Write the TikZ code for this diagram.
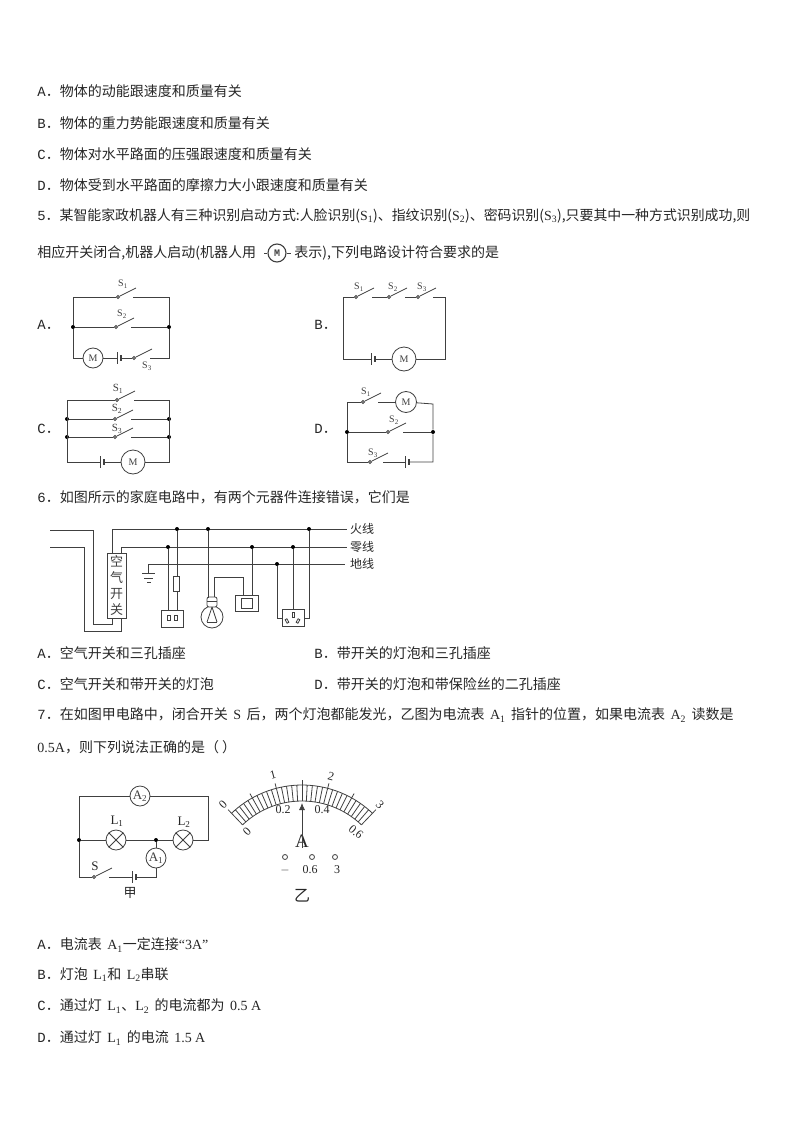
\documentclass[tikz,border=0pt]{standalone}
\usepackage{fontspec}
\setmainfont{Noto Sans CJK SC}
\newfontfamily\latfont{Liberation Serif}
\newfontfamily\optfont{Liberation Mono}
\usetikzlibrary{arrows.meta}
\newcommand{\lat}[1]{{\latfont #1}}
\newcommand{\opt}[1]{{\optfont #1}}
\newcommand{\sbs}[1]{\textsubscript{#1}}
\newcommand{\gp}{\hspace{5.5pt}}
% switch: pivot node, blade, and coordinate where the wire comes back
\newcommand{\swit}[4]{%
    \node[pivot] (#1) at (#2,#3) {};
    \coordinate (#1b) at (#2+18,#3-9);
    \coordinate (#1r) at (#2+#4,#3);
    \draw (#1) -- (#1b);}
% cell: long and short bar, with coordinates on both sides
\newcommand{\cell}[3]{%
    \coordinate (#1l) at (#2,#3);
    \coordinate (#1r) at (#2+4,#3);
    \draw (#2,#3-6) -- (#2,#3+6);
    \draw[line width=1.1pt] (#2+4,#3-3) -- (#2+4,#3+3);}

\begin{document}
\begin{tikzpicture}[x=1pt,y=-1pt,
    wire/.style = {line width=0.8pt, black!75},
    line/.style = {anchor=west, inner sep=0pt, text=black!85,
        font=\fontsize{14}{16}\selectfont},
    slabel/.style = {inner sep=0pt, text=black!75,
        font=\latfont\fontsize{10}{10}\selectfont},
    dot/.style = {circle, fill=black, inner sep=0pt, minimum size=4pt},
    pivot/.style = {circle, draw, fill=white, inner sep=0pt, minimum size=3pt},
    motor/.style = {circle, draw, fill=white, inner sep=0pt, minimum size=20pt,
        font=\latfont\fontsize{10}{10}\selectfont},
    lamp/.style = {circle, draw, fill=white, inner sep=0pt, minimum size=20pt},
    meter/.style = {circle, draw, fill=white, inner sep=0pt, minimum size=20pt,
        font=\latfont\fontsize{13}{13}\selectfont},
    box/.style = {rectangle, draw, fill=white, inner sep=0pt},
    tag/.style = {inner sep=0pt, text=black!85,
        font=\fontsize{12}{12}\selectfont},
    dialtext/.style = {inner sep=0pt, text=black!85,
        font=\latfont\fontsize{12}{12}\selectfont},
    wire]
\useasboundingbox (0,0) rectangle (794,1123);

% Text of the page
\node[line] (q4a) at (37,91) {\opt{A}．物体的动能跟速度和质量有关};
\node[line] (q4b) at (37,123) {\opt{B}．物体的重力势能跟速度和质量有关};
\node[line] (q4c) at (37,154) {\opt{C}．物体对水平路面的压强跟速度和质量有关};
\node[line] (q4d) at (37,185) {\opt{D}．物体受到水平路面的摩擦力大小跟速度和质量有关};
\node[line,font=\fontsize{13.9}{16}\selectfont] (q5a) at (37,216) {\opt{5}．某智能家政机器人有三种识别启动方式:人脸识别(\lat{S\sbs{1}})、指纹识别(\lat{S\sbs{2}})、密码识别(\lat{S\sbs{3}}),只要其中一种方式识别成功,则};
\node[line] (q5b) at (37,253) {相应开关闭合,机器人启动(机器人用};
\node[line] (q5c) at (294,253) {表示),下列电路设计符合要求的是};
\node[line] (q6) at (37,497) {\opt{6}．如图所示的家庭电路中，有两个元器件连接错误，它们是};
\node[line] (q6a) at (37,653) {\opt{A}．空气开关和三孔插座};
\node[line] (q6b) at (314,653) {\opt{B}．带开关的灯泡和三孔插座};
\node[line] (q6c) at (37,684) {\opt{C}．空气开关和带开关的灯泡};
\node[line] (q6d) at (314,684) {\opt{D}．带开关的灯泡和带保险丝的二孔插座};
\node[line] (q7a) at (37,715) {\opt{7}．在如图甲电路中，闭合开关\gp\lat{S}\gp 后，两个灯泡都能发光，乙图为电流表\gp\lat{A\sbs{1}}\gp 指针的位置，如果电流表\gp\lat{A\sbs{2}}\gp 读数是};
\node[line] (q7b) at (37,747) {\lat{0.5A}，则下列说法正确的是（ ）};
\node[line] (q7oa) at (37,945) {\opt{A}．电流表\gp\lat{A\sbs{1}}一定连接\lat{“3A”}};
\node[line] (q7ob) at (37,975) {\opt{B}．灯泡\gp\lat{L\sbs{1}}和\gp\lat{L\sbs{2}}串联};
\node[line] (q7oc) at (37,1006) {\opt{C}．通过灯\gp\lat{L\sbs{1}}、\lat{L\sbs{2}}\gp 的电流都为\gp\lat{0.5 A}};
\node[line] (q7od) at (37,1038) {\opt{D}．通过灯\gp\lat{L\sbs{1}}\gp 的电流\gp\lat{1.5 A}};
\node[line] (la) at (37,325) {\opt{A}．};
\node[line] (lb) at (314,325) {\opt{B}．};
\node[line] (lc) at (37,429) {\opt{C}．};
\node[line] (ld) at (314,429) {\opt{D}．};

% Motor inside the sentence
\node[motor,line width=1.1pt,minimum size=18pt,font=\optfont\bfseries\fontsize{10}{10}\selectfont] (mq) at (277,253) {M};
\coordinate (mql) at (264,253);
\coordinate (mqr) at (291,253);
\draw (mql) -- (mq);
\draw (mq) -- (mqr);

% Circuit A
\coordinate (atl) at (73,297);
\coordinate (atr) at (169,297);
\coordinate (abl) at (73,358);
\coordinate (abr) at (169,358);
\node[dot] (aml) at (73,327) {};
\node[dot] (amr) at (169,327) {};
\swit{as1}{118}{297}{15}
\swit{as2}{116}{327}{15}
\swit{as3}{134}{358}{16}
\cell{ac}{117}{358}
\node[motor] (am) at (93,358) {M};
\node[slabel] (as1t) at (123,284) {S\sbs{1}};
\node[slabel] (as2t) at (122,314) {S\sbs{2}};
\node[slabel] (as3t) at (147,366) {S\sbs{3}};
\draw (as1) -- (atl) -- (aml) -- (abl) -- (am);
\draw (as1r) -- (atr) -- (amr) -- (abr) -- (as3r);
\draw (aml) -- (as2);
\draw (as2r) -- (amr);
\draw (am) -- (acl);
\draw (acr) -- (as3);

% Circuit B
\coordinate (btl) at (343,297);
\coordinate (btr) at (445,297);
\coordinate (bbl) at (343,359);
\coordinate (bbr) at (445,359);
\swit{bs1}{356}{297}{16}
\swit{bs2}{389}{297}{16}
\swit{bs3}{418}{297}{15}
\cell{bc}{371}{359}
\node[motor,minimum size=24pt] (bm) at (404,359) {M};
\node[slabel] (bs1t) at (359,287) {S\sbs{1}};
\node[slabel] (bs2t) at (393,287) {S\sbs{2}};
\node[slabel] (bs3t) at (422,287) {S\sbs{3}};
\draw (bs1) -- (btl) -- (bbl) -- (bcl);
\draw (bcr) -- (bm);
\draw (bm) -- (bbr) -- (btr) -- (bs3r);
\draw (bs1r) -- (bs2);
\draw (bs2r) -- (bs3);

% Circuit C
\coordinate (ctl) at (67,400);
\coordinate (ctr) at (169,400);
\coordinate (cbl) at (67,462);
\coordinate (cbr) at (169,462);
\node[dot] (cl2) at (67,419) {};
\node[dot] (cl3) at (67,437) {};
\node[dot] (cr2) at (169,419) {};
\node[dot] (cr3) at (169,437) {};
\swit{cs1}{117}{400}{17}
\swit{cs2}{115}{419}{16}
\swit{cs3}{115}{437}{16}
\cell{cc}{100}{462}
\node[motor,minimum size=24pt] (cm) at (133,462) {M};
\node[slabel,font=\latfont\fontsize{11}{11}\selectfont] (cs1t) at (118,389) {S\sbs{1}};
\node[slabel,font=\latfont\fontsize{11}{11}\selectfont] (cs2t) at (117,409) {S\sbs{2}};
\node[slabel,font=\latfont\fontsize{11}{11}\selectfont] (cs3t) at (117,429) {S\sbs{3}};
\draw (cs1) -- (ctl) -- (cbl) -- (ccl);
\draw (ccr) -- (cm);
\draw (cm) -- (cbr) -- (ctr) -- (cs1r);
\draw (cl2) -- (cs2);
\draw (cl3) -- (cs3);
\draw (cs2r) -- (cr2);
\draw (cs3r) -- (cr3);

% Circuit D
\coordinate (dtl) at (347,402);
\coordinate (dtr) at (433,404);
\coordinate (dbl) at (347,462);
\coordinate (dbr) at (433,462);
\node[dot] (dml) at (347,432) {};
\node[dot] (dmr) at (433,432) {};
\swit{ds1}{363}{402}{15}
\swit{ds2}{388}{432}{15}
\swit{ds3}{370}{462}{13}
\cell{dc}{405}{462}
\node[motor,minimum size=21pt] (dm) at (406,402) {M};
\node[slabel] (ds1t) at (366,392) {S\sbs{1}};
\node[slabel] (ds2t) at (394,420) {S\sbs{2}};
\node[slabel] (ds3t) at (373,453) {S\sbs{3}};
\draw (ds1) -- (dtl) -- (dml) -- (dbl) -- (ds3);
\draw (ds1r) -- (dm);
\draw (dm) -- (dtr) -- (dmr) -- (dbr) -- (dcr);
\draw (dml) -- (ds2);
\draw (ds2r) -- (dmr);
\draw (ds3r) -- (dcl);

% House wiring
\coordinate (firein) at (50,530);
\coordinate (firebend) at (93,530);
\coordinate (firelow) at (93,624);
\coordinate (firebox) at (112,624);
\coordinate (nulin) at (50,547);
\coordinate (nulbend) at (84,547);
\coordinate (nullow) at (84,631);
\coordinate (nulbox) at (121,631);
\coordinate (firel) at (112,529);
\coordinate (firer) at (347,529);
\coordinate (null) at (121,547);
\coordinate (nulr) at (347,547);
\coordinate (gndl) at (148,564);
\coordinate (gndr) at (345,564);
\coordinate (gndb) at (148,573);
\node[box,minimum width=19pt,minimum height=65pt,font=\fontsize{13}{16}\selectfont,align=center] (brk) at (116.5,585.5) {空\\气\\开\\关};
\node[tag] (firet) at (362,529) {火线};
\node[tag] (nult) at (362,547) {零线};
\node[tag] (gndt) at (362,564) {地线};
\draw (firein) -- (firebend) -- (firelow) -- (firebox) -- (firebox |- brk.south);
\draw (nulin) -- (nulbend) -- (nullow) -- (nulbox) -- (nulbox |- brk.south);
\draw (firel |- brk.north) -- (firel) -- (firer);
\draw (null |- brk.north) -- (null) -- (nulr);
\draw (gndb) -- (gndl) -- (gndr);
\draw (142,573) -- (155,573);
\draw (144,578) -- (153,578);
\draw (147,582) -- (151,582);

% Two pin socket with fuse
\node[box,minimum width=22pt,minimum height=17pt] (sock) at (172,618.5) {};
\node[dot] (sockn) at (168,547) {};
\node[dot] (sockf) at (177,529) {};
\node[box,minimum width=6pt,minimum height=15pt] (fuse) at (176,583.5) {};
\draw (sockn) -- (sockn |- sock.north);
\draw (sockf) -- (sockf |- fuse.north);
\draw (sockf |- fuse.south) -- (sockf |- sock.north);
\draw (167.8,615) rectangle (170.2,620);
\draw (174.8,615) rectangle (177.2,620);

% Lamp with switch
\node[dot] (lampf) at (208,529) {};
\node[circle,draw,inner sep=0pt,minimum size=22pt] (bulb) at (212,617) {};
\draw[fill=white,rounded corners=2pt] (207,597) rectangle (217,607);
\draw (207,601) -- (217,601);
\draw (212,607) -- (207,622);
\draw (212,607) -- (217,622);
\draw (207,622) -- (217,622);
\coordinate (lampc) at (208,598);
\coordinate (lampr) at (214,597);
\coordinate (lampt) at (214,577);
\coordinate (swt) at (243,577);
\node[box,minimum width=23pt,minimum height=16pt] (sw) at (246.5,603) {};
\node[dot] (swn) at (252,547) {};
\draw (lampf) -- (lampc);
\draw (lampr) -- (lampt) -- (swt) -- (swt |- sw.north);
\draw (swn) -- (swn |- sw.north);
\draw (241,598) rectangle (252,608);

% Three pin socket
\node[box,minimum width=22pt,minimum height=17pt] (tsock) at (293,617.5) {};
\node[dot] (tsockn) at (293,547) {};
\node[dot] (tsockg) at (277,564) {};
\node[dot] (tsockf) at (309,529) {};
\coordinate (tsockgb) at (277,618);
\coordinate (tsockfb) at (309,618);
\draw (tsockn) -- (tsock.north);
\draw (tsockg) -- (tsockgb) -- (tsockgb -| tsock.west);
\draw (tsockf) -- (tsockfb) -- (tsockfb -| tsock.east);
\draw (292,612) rectangle (294,617);
\draw[rotate around={30:(287,621)}] (286,619) rectangle (288,623);
\draw[rotate around={-30:(298,621)}] (297,619) rectangle (299,623);

% Circuit of question 7
\coordinate (etl) at (79,796);
\coordinate (etr) at (208,796);
\coordinate (emr) at (208,840);
\coordinate (ebl) at (79,877);
\coordinate (ebr) at (156,877);
\node[dot] (eml) at (79,840) {};
\node[dot] (emm) at (156,840) {};
\node[meter] (ea2) at (140,796) {A\sbs{2}};
\node[lamp] (el1) at (116,840) {};
\node[lamp] (el2) at (183,840) {};
\node[meter] (ea1) at (156,858) {A\sbs{1}};
\swit{es}{94}{877}{15}
\cell{ec}{132}{877}
\node[dialtext,font=\latfont\fontsize{13}{13}\selectfont] (el1t) at (117,821) {L\sbs{1}};
\node[dialtext,font=\latfont\fontsize{13}{13}\selectfont] (el2t) at (184,822) {L\sbs{2}};
\node[dialtext,font=\latfont\fontsize{13}{13}\selectfont] (est) at (95,866) {S};
\node[tag,font=\fontsize{13}{13}\selectfont] (ejia) at (130,893) {甲};
\draw (el1.45) -- (el1.225);
\draw (el1.135) -- (el1.315);
\draw (el2.45) -- (el2.225);
\draw (el2.135) -- (el2.315);
\draw (ea2) -- (etl) -- (eml) -- (ebl) -- (es);
\draw (ea2) -- (etr) -- (emr) -- (el2);
\draw (eml) -- (el1);
\draw (el1) -- (emm);
\draw (emm) -- (el2);
\draw (emm) -- (ea1);
\draw (ea1) -- (ebr) -- (ecr);
\draw (esr) -- (ecl);

% Dial
\draw plot[domain=-43.7:43.7,samples=40] ({302+102*sin(\x)},{887-102*cos(\x)});
\draw plot[domain=-43.7:43.7,samples=40] ({302+86*sin(\x)},{887-86*cos(\x)});
\foreach \i in {-15,...,15}
    \draw ({302+86*sin(\i*43.7/15)},{887-86*cos(\i*43.7/15)}) -- ({302+102*sin(\i*43.7/15)},{887-102*cos(\i*43.7/15)});
\foreach \i in {-15,-10,-5,0,5,10,15}
    \draw ({302+102*sin(\i*43.7/15)},{887-102*cos(\i*43.7/15)}) -- ({302+107*sin(\i*43.7/15)},{887-107*cos(\i*43.7/15)});
\node[dialtext,rotate=45] (up0) at (223,805) {0};
\node[dialtext,rotate=15] (up1) at (273,775) {1};
\node[dialtext,rotate=-15] (up2) at (331,776) {2};
\node[dialtext,rotate=-45] (up3) at (380,805) {3};
\node[dialtext,rotate=45] (lo0) at (247,832) {0};
\node[dialtext] (lo2) at (283,810) {0.2};
\node[dialtext] (lo4) at (322,810) {0.4};
\node[dialtext,rotate=-40] (lo6) at (356,832) {0.6};
\node[dialtext,font=\latfont\fontsize{19}{19}\selectfont] (unit) at (302,841) {A};
\coordinate (needle) at (302,803);
\draw[-{Latex[length=7pt,width=6pt]}] (unit.south) -- (needle);
\node[pivot,minimum size=5pt] (tm) at (285,857) {};
\node[pivot,minimum size=5pt] (to6) at (312,857) {};
\node[pivot,minimum size=5pt] (t3) at (335,857) {};
\node[dialtext] (tmt) at (285,870) {$-$};
\node[dialtext] (to6t) at (310,870) {0.6};
\node[dialtext] (t3t) at (337,870) {3};
\node[tag,font=\fontsize{16}{16}\selectfont] (eyi) at (302,896) {乙};
\end{tikzpicture}
\end{document}
